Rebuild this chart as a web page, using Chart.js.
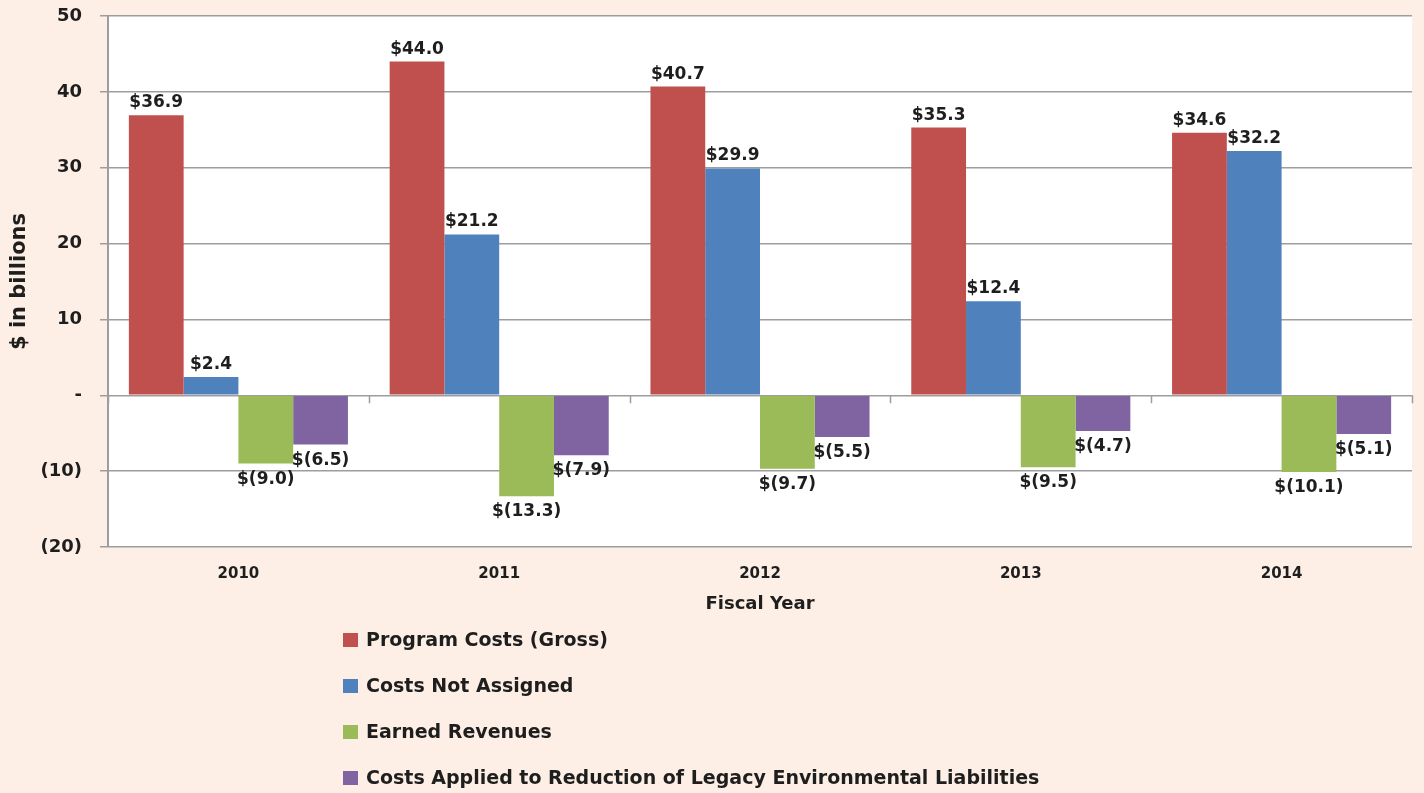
<!DOCTYPE html>
<html>
<head>
<meta charset="utf-8">
<title>Program costs by fiscal year</title>
<script src="https://cdn.jsdelivr.net/npm/chart.js@4.4.1/dist/chart.umd.min.js"></script>
<style>
  html, body { margin: 0; padding: 0; background: #fdefe5; }
  #wrap { width: 1424px; height: 793px; position: relative; }
</style>
</head>
<body>
<div id="wrap"><canvas id="costChart"></canvas></div>
<script>
// data ($ in billions)
const years = ["2010", "2011", "2012", "2013", "2014"];
const programCosts = [36.9, 44.0, 40.7, 35.3, 34.6];
const costsNotAssigned = [2.4, 21.2, 29.9, 12.4, 32.2];
const earnedRevenues = [-9.0, -13.3, -9.7, -9.5, -10.1];
const legacyEnvCosts = [-6.5, -7.9, -5.5, -4.7, -5.1];

const seriesNames = [
  "Program Costs (Gross)",
  "Costs Not Assigned",
  "Earned Revenues",
  "Costs Applied to Reduction of Legacy Environmental Liabilities",
];
const seriesColors = ["#c0504d", "#4f81bd", "#9bbb59", "#8064a2"];

// y axis ticks, bottom to top
const yTickValues = [-20, -10, 0, 10, 20, 30, 40, 50];
const yTickLabels = ["(20)", "(10)", "-", "10", "20", "30", "40", "50"];

const FONT = "'DejaVu Sans', sans-serif";
const TEXT_COLOR = "#1e1e1e";
const GRID_COLOR = "#9d9d9d";

// format like $36.9 / $(9.0)
function moneyLabel(v) {
  if (v < 0) return "$(" + Math.abs(v).toFixed(1) + ")";
  return "$" + v.toFixed(1);
}

// white plot area on the peach page
const plotBackground = {
  id: "plotBackground",
  beforeDraw(chart) {
    const { ctx, chartArea } = chart;
    ctx.save();
    ctx.fillStyle = "#ffffff";
    ctx.fillRect(chartArea.left, chartArea.top, chartArea.right - chartArea.left, chartArea.bottom - chartArea.top);
    ctx.restore();
  },
};

// small category ticks hanging from the zero line
const zeroLineTicks = {
  id: "zeroLineTicks",
  afterDatasetsDraw(chart) {
    const { ctx, scales } = chart;
    const x = scales.x;
    const zeroY = scales.y.getPixelForValue(0);
    const step = x.width / years.length;
    ctx.save();
    ctx.strokeStyle = GRID_COLOR;
    ctx.lineWidth = 1.5;
    for (let i = 0; i <= years.length; i++) {
      const px = Math.round(x.left + i * step) + 0.5;
      ctx.beginPath();
      ctx.moveTo(px, zeroY);
      ctx.lineTo(px, zeroY + 8);
      ctx.stroke();
    }
    ctx.restore();
  },
};

// value labels above / below each bar
const barLabels = {
  id: "barLabels",
  afterDatasetsDraw(chart) {
    const { ctx } = chart;
    ctx.save();
    ctx.font = "bold 17px " + FONT;
    ctx.fillStyle = TEXT_COLOR;
    ctx.textAlign = "center";
    ctx.textBaseline = "alphabetic";
    chart.data.datasets.forEach((ds, di) => {
      const meta = chart.getDatasetMeta(di);
      meta.data.forEach((bar, i) => {
        const v = ds.data[i];
        const y = v >= 0 ? bar.y - 8 : bar.y + 20;
        ctx.fillText(moneyLabel(v), bar.x, y);
      });
    });
    ctx.restore();
  },
};

// vertical legend under the axis title
const stackedLegend = {
  id: "stackedLegend",
  afterDraw(chart) {
    const { ctx } = chart;
    const boxX = 343;
    const textX = 366;
    const firstBaseline = 646;
    const rowGap = 46;
    ctx.save();
    ctx.font = "bold 19px " + FONT;
    ctx.textAlign = "left";
    ctx.textBaseline = "alphabetic";
    chart.data.datasets.forEach((ds, i) => {
      const base = firstBaseline + i * rowGap;
      ctx.fillStyle = ds.backgroundColor;
      ctx.fillRect(boxX, base - 13, 15, 14);
      ctx.fillStyle = TEXT_COLOR;
      ctx.fillText(ds.label, textX, base);
    });
    ctx.restore();
  },
};

const seriesData = [programCosts, costsNotAssigned, earnedRevenues, legacyEnvCosts];

const ctx = document.getElementById("costChart").getContext("2d");
new Chart(ctx, {
  type: "bar",
  data: {
    labels: years,
    datasets: seriesData.map((values, i) => ({
      label: seriesNames[i],
      data: values,
      backgroundColor: seriesColors[i],
      borderWidth: 0,
      categoryPercentage: 0.84,
      barPercentage: 1.0,
    })),
  },
  options: {
    responsive: true,
    maintainAspectRatio: false,
    animation: false,
    layout: {
      padding: { top: 16, right: 12, bottom: 178, left: 0 },
    },
    plugins: {
      legend: { display: false },
      tooltip: { enabled: false },
    },
    scales: {
      x: {
        grid: { display: false, drawTicks: false },
        border: { display: false },
        ticks: {
          color: TEXT_COLOR,
          font: { family: FONT, size: 15, weight: "bold" },
          padding: 18,
          maxRotation: 0,
        },
        title: {
          display: true,
          text: "Fiscal Year",
          color: TEXT_COLOR,
          font: { family: FONT, size: 18, weight: "bold" },
          padding: { top: 0, bottom: 0 },
        },
        afterFit(scale) {
          scale.height = 68;
        },
      },
      y: {
        min: yTickValues[0],
        max: yTickValues[yTickValues.length - 1],
        afterBuildTicks(scale) {
          scale.ticks = yTickValues.map((v) => ({ value: v }));
        },
        grid: {
          color: GRID_COLOR,
          lineWidth: 1.5,
          tickLength: 8,
        },
        border: { color: GRID_COLOR, width: 2 },
        ticks: {
          color: TEXT_COLOR,
          font: { family: FONT, size: 18, weight: "bold" },
          padding: 18,
          callback: (value, index) => yTickLabels[index],
        },
        title: {
          display: true,
          text: "$ in billions",
          color: TEXT_COLOR,
          font: { family: FONT, size: 21, weight: "bold" },
          padding: { top: 7, bottom: 0 },
        },
        afterFit(scale) {
          scale.width = 108;
          scale.paddingTop = 0;
          scale.paddingBottom = 0;
        },
      },
    },
  },
  plugins: [plotBackground, zeroLineTicks, barLabels, stackedLegend],
});
</script>
</body>
</html>
